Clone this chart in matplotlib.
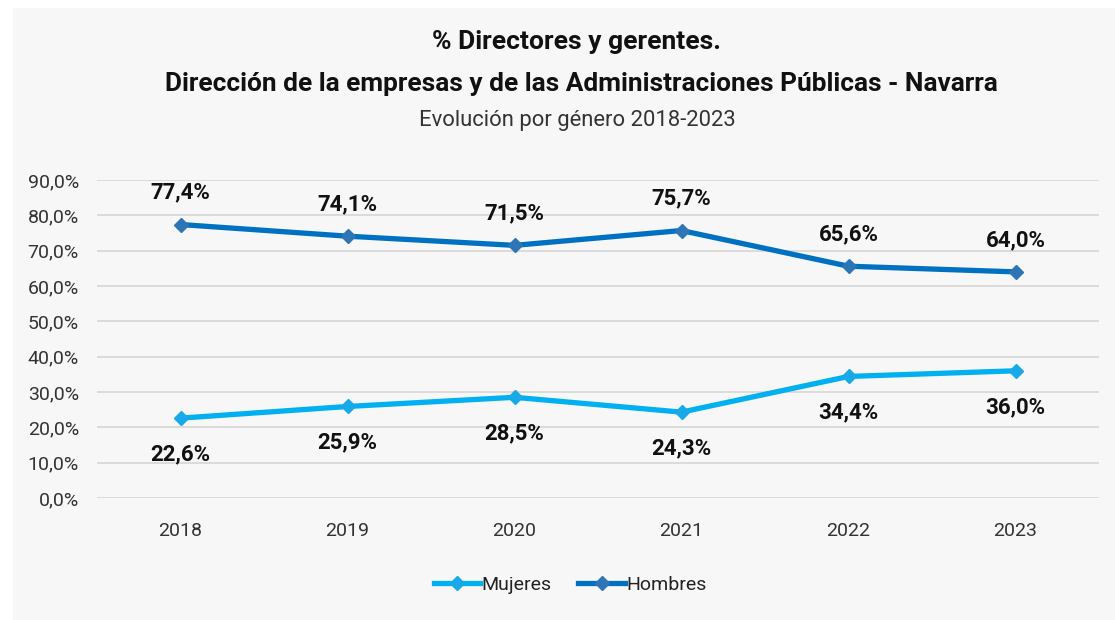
import matplotlib.pyplot as plt
from matplotlib.patches import Rectangle

years = ['2018', '2019', '2020', '2021', '2022', '2023']
mujeres = [22.6, 25.9, 28.5, 24.3, 34.4, 36.0]
hombres = [77.4, 74.1, 71.5, 75.7, 65.6, 64.0]

plt.rcParams['font.family'] = ['Roboto', 'DejaVu Sans']

fig = plt.figure(figsize=(11.15, 6.2), dpi=100)
fig.patches.append(Rectangle((13 / 1115, 0), 1 - 13 / 1115, 1 - 8 / 620,
                             transform=fig.transFigure, facecolor='#f7f7f7',
                             edgecolor='none', zorder=-10))

ax = fig.add_axes([97 / 1115, 1 - 498 / 620, (1099 - 97) / 1115, (498 - 180) / 620])
ax.set_facecolor('none')

x = range(len(years))
ax.plot(x, mujeres, color='#00b0f0', lw=3.8, marker='D', ms=7.5,
        mfc='#17a9e8', mec='#17a9e8', label='Mujeres', zorder=3)
ax.plot(x, hombres, color='#0070c0', lw=3.8, marker='D', ms=7.5,
        mfc='#2e75b6', mec='#2e75b6', label='Hombres', zorder=3)

for i, v in enumerate(hombres):
    ax.annotate(f'{v:.1f}%'.replace('.', ','), (i, v), xytext=(0, 23),
                textcoords='offset points', ha='center', va='center',
                fontsize=16, fontweight='bold', color='#111111')
for i, v in enumerate(mujeres):
    ax.annotate(f'{v:.1f}%'.replace('.', ','), (i, v), xytext=(0, -26),
                textcoords='offset points', ha='center', va='center',
                fontsize=16, fontweight='bold', color='#111111')

ax.set_xlim(-0.5, len(years) - 0.5)
ax.set_ylim(0, 90)
ax.set_yticks(range(0, 91, 10))
ax.set_yticklabels([f'{t},0%' for t in range(0, 91, 10)])
ax.set_xticks(list(x))
ax.set_xticklabels(years)
ax.tick_params(length=0, labelsize=14, colors='#333333')
ax.tick_params(axis='x', pad=17)
ax.tick_params(axis='y', pad=13)
ax.grid(axis='y', color='#d9d9d9', lw=1.3)
ax.set_axisbelow(True)
for s in ax.spines.values():
    s.set_visible(False)

fig.text(577 / 1115, 1 - 42 / 620, '% Directores y gerentes.', ha='center', va='center',
         fontsize=19, fontweight='bold', color='#111111')
fig.text(581 / 1115, 1 - 84 / 620,
         'Dirección de la empresas y de las Administraciones Públicas - Navarra',
         ha='center', va='center', fontsize=18.9, fontweight='bold', color='#111111')
fig.text(577 / 1115, 1 - 120 / 620, 'Evolución por género 2018-2023', ha='center',
         va='center', fontsize=15.8, color='#333333')

fig.legend(loc='center', bbox_to_anchor=(570 / 1115, 1 - 585 / 620), ncol=2,
           frameon=False, fontsize=14, handlelength=2.4, handletextpad=0.05,
           columnspacing=1.4, labelcolor='#222222')

fig.savefig('out.png', dpi=100)
